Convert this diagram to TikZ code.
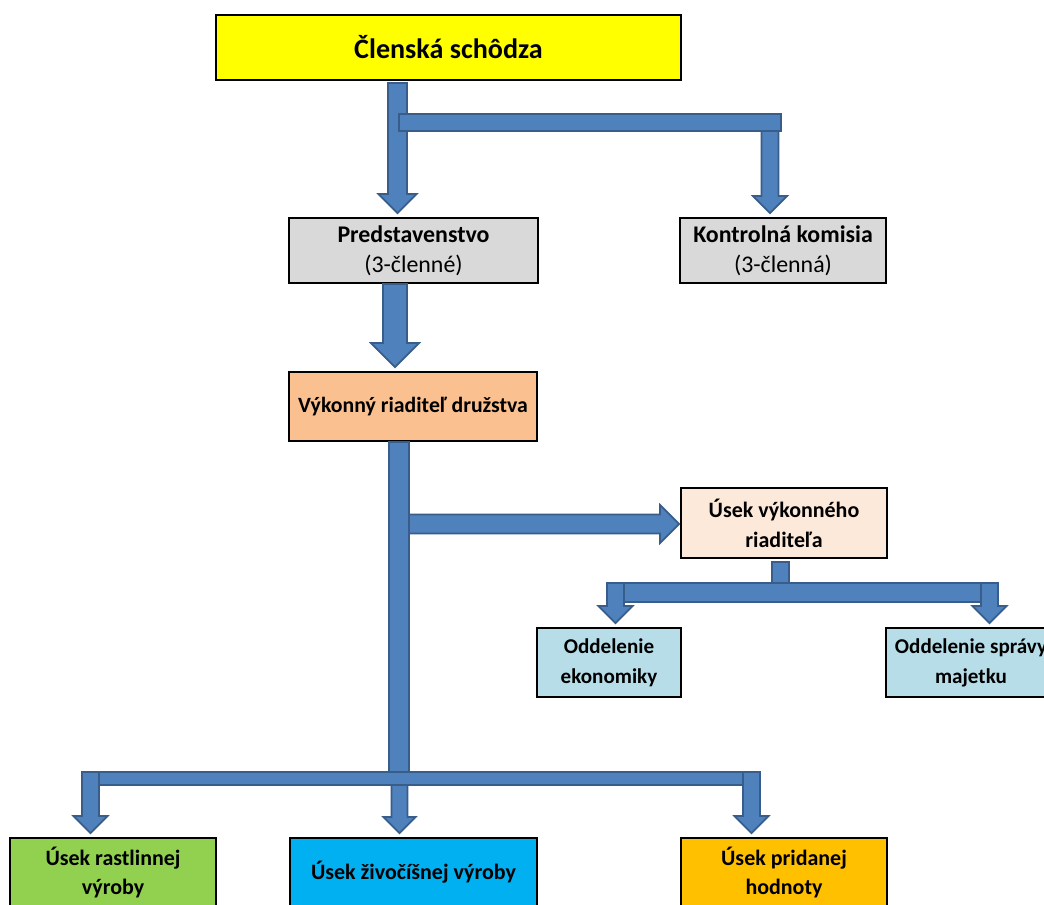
\documentclass[tikz,border=0pt]{standalone}
\usepackage{fontspec}
\setmainfont{Carlito}
\usetikzlibrary{calc}

\definecolor{arrowblue}{HTML}{4F81BD}
\definecolor{arrowedge}{HTML}{385D8A}
\definecolor{boxyellow}{HTML}{FFFF00}
\definecolor{boxgray}{HTML}{D9D9D9}
\definecolor{boxorange}{HTML}{FAC090}
\definecolor{boxpeach}{HTML}{FDE9D9}
\definecolor{boxcyan}{HTML}{B7DEE8}
\definecolor{boxgreen}{HTML}{92D050}
\definecolor{boxblue}{HTML}{00B0F0}
\definecolor{boxgold}{HTML}{FFC000}

% block arrow: #1 top of shaft, #2 target node, #3 shaft width
\newcommand\blockdown[3]{%
  \filldraw[blockarrow] ($(#1 |- #2.north)+(0,-4)$) coordinate (tip)
    -- ++(#3,-#3) -- ++(-#3/2,0) |- ($(#1)+(-#3/2,0)$)
    |- ($(tip)+(-#3,-#3)$) -- cycle;}
\newcommand\blockright[3]{%
  \filldraw[blockarrow] ($(#1 -| #2.west)+(-1,0)$) coordinate (tip)
    -- ++(-#3,-#3) -- ++(0,#3/2) -| ($(#1)+(0,-#3/2)$)
    -- ++(0,#3) -| ($(tip)+(-#3,#3)$) -- cycle;}

\begin{document}
\begin{tikzpicture}[x=0.02cm, y=-0.02cm,
  box/.style={draw=black, line width=1.1pt, align=center, inner sep=1pt},
  textsize/.style={font=\fontsize{#1}{17}\selectfont\bfseries},
  blockarrow/.style={fill=arrowblue, draw=arrowedge, line width=1pt}]
\path[use as bounding box, clip] (0,0) rectangle (1044,905);

\node[box, textsize=16, fill=boxyellow, minimum width=9.3cm, minimum height=1.3cm]
  (schodza) at (448.5,47.5) {Členská schôdza};
\node[box, textsize=13.6, fill=boxgray, minimum width=4.98cm, minimum height=1.3cm]
  (pred) at (413.5,250.5) {Predstavenstvo\\\textmd{(3-členné)}};
\node[box, textsize=13.6, fill=boxgray, minimum width=4.12cm, minimum height=1.3cm]
  (komisia) at (783,250.5) {Kontrolná komisia\\\textmd{(3-členná)}};
\node[box, textsize=12.4, fill=boxorange, minimum width=4.96cm, minimum height=1.38cm]
  (riaditel) at (413,406.5) {Výkonný riaditeľ družstva};
\node[box, textsize=12.5, fill=boxpeach, minimum width=4.12cm, minimum height=1.4cm]
  (usekvr) at (784,523) {Úsek výkonného\\riaditeľa};
\node[box, textsize=12, fill=boxcyan, minimum width=2.88cm, minimum height=1.38cm]
  (ekonom) at (609,662.5) {Oddelenie\\ekonomiky};
\node[box, textsize=12, fill=boxcyan, minimum width=3.4cm, minimum height=1.38cm]
  (majetok) at (971,662.5) {Oddelenie správy\\majetku};
\node[box, textsize=12.5, fill=boxgreen, minimum width=4.12cm, minimum height=1.38cm]
  (rastl) at (113,872.5) {Úsek rastlinnej\\výroby};
\node[box, textsize=12.5, fill=boxblue, minimum width=4.94cm, minimum height=1.38cm]
  (zivoc) at (413.5,872.5) {Úsek živočíšnej výroby};
\node[box, textsize=12.5, fill=boxgold, minimum width=4.12cm, minimum height=1.38cm]
  (pridana) at (784,872.5) {Úsek pridanej\\hodnoty};

% members' meeting
\coordinate (a1) at (397.5,83);
\coordinate (a2) at (770,131);
\blockdown{a1}{pred}{19}
\filldraw[blockarrow] (399,114) rectangle (781,131);
\blockdown{a2}{komisia}{17}

% board
\coordinate (a3) at (395,284);
\blockdown{a3}{riaditel}{24}

% director
\filldraw[blockarrow] (389,442) rectangle (409,778);
\coordinate (a4) at (409,524);
\blockright{a4}{usekvr}{19}

\filldraw[blockarrow] (772,562) rectangle (789,583);
\filldraw[blockarrow] (607,583) rectangle (998,602);
\coordinate (a5) at (615.5,583);
\coordinate (a6) at (989.5,583);
\blockdown{a5}{ekonom}{17}
\blockdown{a6}{majetok}{17}

\filldraw[blockarrow] (82,772) rectangle (760,785);
\coordinate (a7) at (90.5,772);
\coordinate (a8) at (399.5,785);
\coordinate (a9) at (751.5,772);
\blockdown{a7}{rastl}{17}
\blockdown{a8}{zivoc}{16}
\blockdown{a9}{pridana}{17}
\end{tikzpicture}
\end{document}
